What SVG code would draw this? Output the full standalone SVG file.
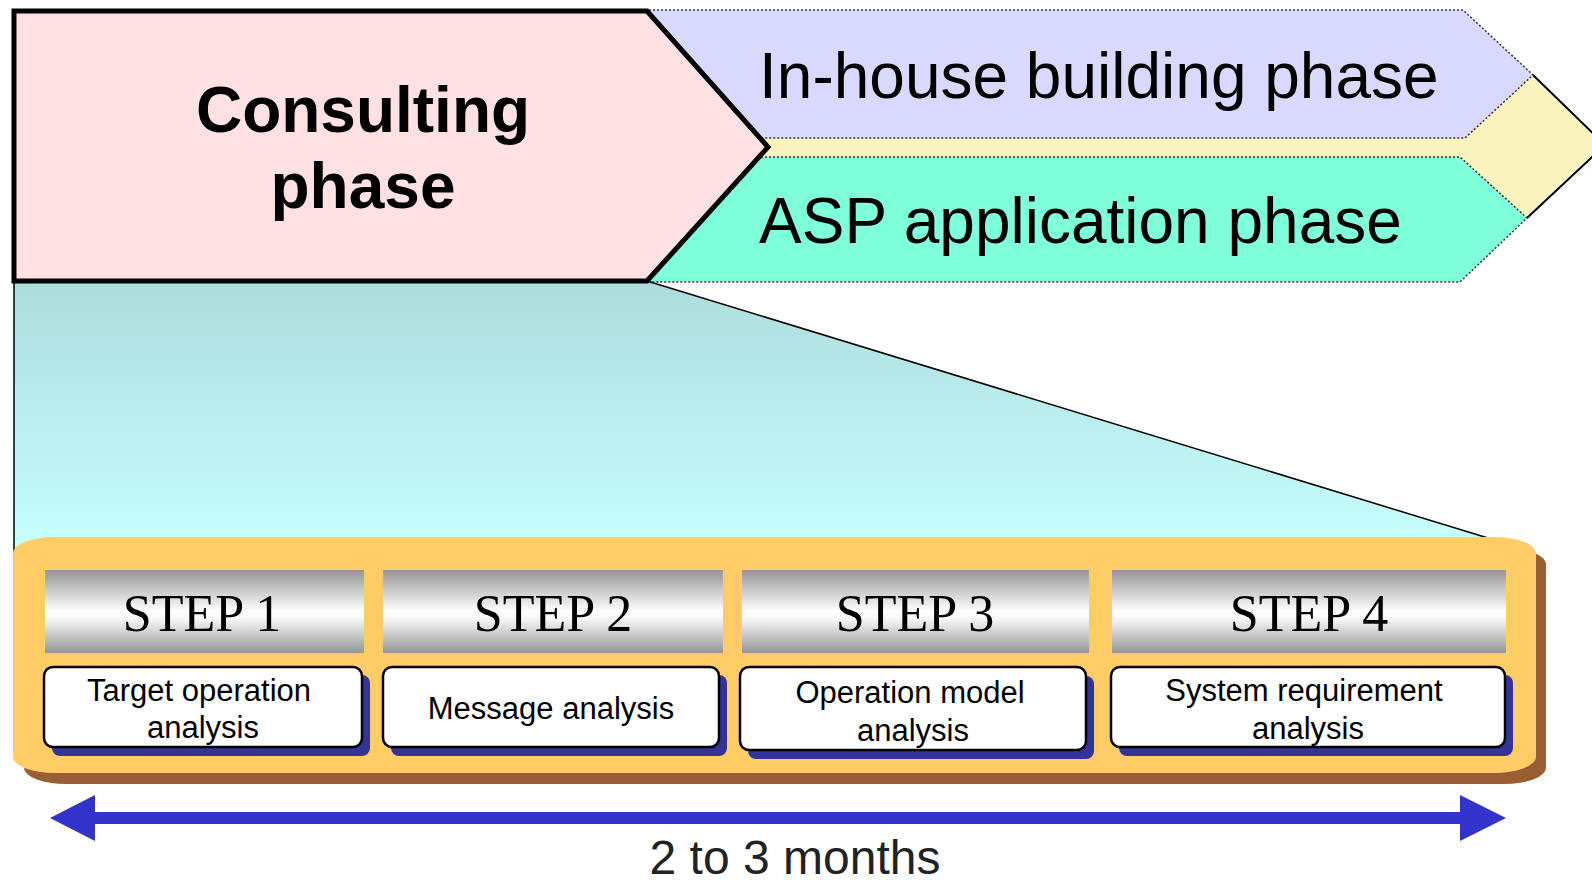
<svg xmlns="http://www.w3.org/2000/svg" width="1592" height="883" viewBox="0 0 1592 883">
<defs>
<linearGradient id="funnel" x1="0" y1="0" x2="0" y2="1">
<stop offset="0" stop-color="#AEDCDD"/>
<stop offset="1" stop-color="#C8FFFF"/>
</linearGradient>
<linearGradient id="metal" x1="0" y1="0" x2="0" y2="1">
<stop offset="0" stop-color="#959595"/>
<stop offset="0.5" stop-color="#FFFFFF"/>
<stop offset="0.6" stop-color="#F4F4F4"/>
<stop offset="1" stop-color="#959595"/>
</linearGradient>
<style>
.phase{stroke:#333;stroke-width:1.5;stroke-dasharray:2 2}
.big{font-family:"Liberation Sans",Arial,sans-serif;font-size:64px;fill:#000}
.cons{font-family:"Liberation Sans",Arial,sans-serif;font-size:64px;font-weight:bold;fill:#000;text-anchor:middle}
.step{font-family:"Liberation Serif","Times New Roman",serif;font-size:52px;fill:#000;text-anchor:middle}
.box{fill:#fff;stroke:#000;stroke-width:2.5}
.shadow{fill:#333399}
.lbl{font-family:"Liberation Sans",Arial,sans-serif;font-size:31px;fill:#000;text-anchor:middle}
</style>
</defs>
<g id="yellow-phase">
<polygon points="700,75 1533,75 1605,145 1527,218 700,218" fill="#FAF3BE"/>
<polyline points="1533,75 1605,145 1527,218" fill="none" stroke="#000" stroke-width="2"/>
</g>
<g id="inhouse">
<polygon class="phase" points="645,10 1463,10 1533,75 1465,138 645,138" fill="#D9D9FF"/>
<text class="big" x="759" y="98">In-house building phase</text>
</g>
<g id="asp">
<polygon class="phase" points="645,157 1460,157 1527,218 1460,282 645,282" fill="#80FFDB"/>
<text class="big" x="759" y="243">ASP application phase</text>
</g>
<g id="funnel-area">
<polygon points="14,281 647,281 1488,538 14,555" fill="url(#funnel)"/>
</g>
<g id="connectors">
<line x1="14" y1="281" x2="14" y2="556" stroke="#000" stroke-width="1.5"/>
<line x1="647" y1="281" x2="1488" y2="538" stroke="#000" stroke-width="1.5"/>
</g>
<g id="consulting">
<polygon points="14,11 647,11 768,147 647,281 14,281" fill="#FFE0E3" stroke="#000" stroke-width="5" stroke-linejoin="miter"/>
<text class="cons" x="363" y="132">Consulting</text>
<text class="cons" x="363" y="208">phase</text>
</g>
<g id="steps-panel">
<rect x="24" y="548" width="1522" height="236" rx="42" ry="16" fill="#995E33"/>
<rect x="13" y="537" width="1523" height="236" rx="42" ry="16" fill="#FFCC66"/>
</g>
<g id="step1">
<rect x="45" y="570" width="319" height="83" fill="url(#metal)"/>
<text class="step" x="202" y="631">STEP 1</text>
<rect class="shadow" x="52" y="675" width="318" height="81" rx="8"/>
<rect class="box" x="44" y="667" width="318" height="80" rx="9"/>
<text class="lbl" x="199" y="701">Target operation</text>
<text class="lbl" x="203" y="738">analysis</text>
</g>
<g id="step2">
<rect x="383" y="570" width="340" height="83" fill="url(#metal)"/>
<text class="step" x="553" y="631">STEP 2</text>
<rect class="shadow" x="391" y="675" width="336" height="81" rx="8"/>
<rect class="box" x="383" y="667" width="336" height="80" rx="9"/>
<text class="lbl" x="551" y="719">Message analysis</text>
</g>
<g id="step3">
<rect x="742" y="570" width="347" height="83" fill="url(#metal)"/>
<text class="step" x="915" y="631">STEP 3</text>
<rect class="shadow" x="748" y="676" width="346" height="83" rx="8"/>
<rect class="box" x="740" y="667" width="346" height="83" rx="9"/>
<text class="lbl" x="910" y="703">Operation model</text>
<text class="lbl" x="913" y="741">analysis</text>
</g>
<g id="step4">
<rect x="1112" y="570" width="394" height="83" fill="url(#metal)"/>
<text class="step" x="1309" y="631">STEP 4</text>
<rect class="shadow" x="1119" y="675" width="394" height="81" rx="8"/>
<rect class="box" x="1111" y="667" width="394" height="80" rx="9"/>
<text class="lbl" x="1304" y="701">System requirement</text>
<text class="lbl" x="1308" y="739">analysis</text>
</g>
<g id="duration">
<rect x="93" y="812" width="1369" height="12" fill="#3333CC"/>
<polygon points="50,818 95,795 95,841" fill="#3333CC"/>
<polygon points="1506,818 1460,795 1460,841" fill="#3333CC"/>
<text x="795" y="874" font-family="'Liberation Sans',Arial,sans-serif" font-size="48" fill="#222" text-anchor="middle">2 to 3 months</text>
</g>
</svg>
